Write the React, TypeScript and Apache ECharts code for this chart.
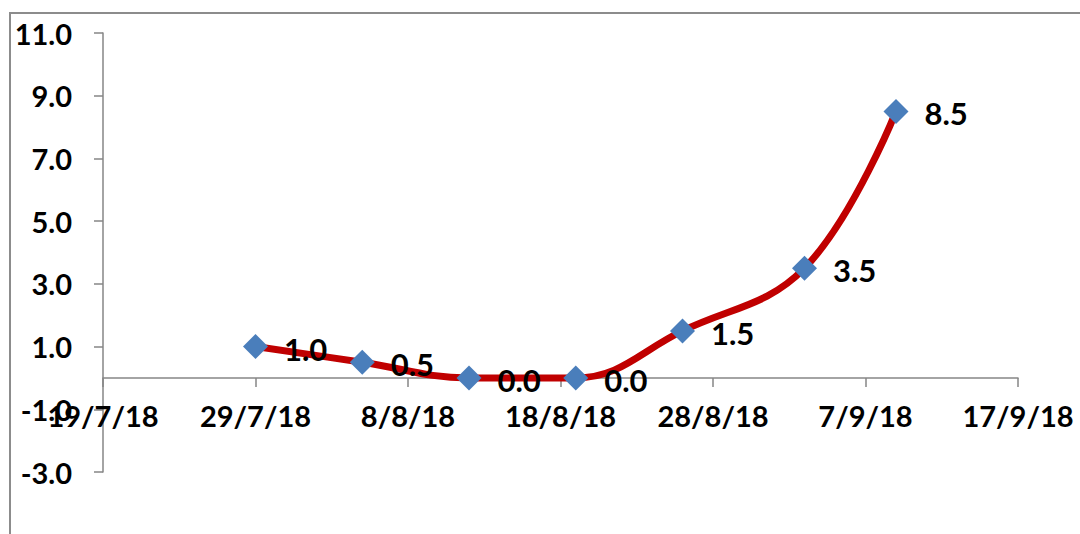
import React, { useEffect, useRef } from "react";
import * as echarts from "echarts";

const pointDates = ["2018-07-29", "2018-08-05", "2018-08-12", "2018-08-19", "2018-08-26", "2018-09-03", "2018-09-09"];
const pointValues = [1.0, 0.5, 0.0, 0.0, 1.5, 3.5, 8.5];
const xTickDates = ["2018-07-19", "2018-07-29", "2018-08-08", "2018-08-18", "2018-08-28", "2018-09-07", "2018-09-17"];
const yTickValues = [-3, -1, 1, 3, 5, 7, 9, 11];

const toTs = (s: string) => {
  const [y, m, d] = s.split("-").map(Number);
  return Date.UTC(y, m - 1, d);
};

const fmtDate = (v: number) => {
  const d = new Date(v);
  return `${d.getUTCDate()}/${d.getUTCMonth() + 1}/${String(d.getUTCFullYear()).slice(2)}`;
};

const FONT = "Lato";
const AXIS_COLOR = "#868686";
const GRID_TOP = 33;
const GRID_BOTTOM_PX = 472;

export default function App() {
  const ref = useRef<HTMLDivElement>(null);
  useEffect(() => {
    if (!ref.current) return;
    const chart = echarts.init(ref.current, null, { renderer: "svg" });
    const xTicks = xTickDates.map(toTs);
    const data = pointDates.map((d, i) => [toTs(d), pointValues[i]]);
    const yMin = yTickValues[0];
    const yMax = yTickValues[yTickValues.length - 1];
    // move the x axis up so that it crosses the y axis at zero (labels follow)
    const zeroOffset = -((0 - yMin) / (yMax - yMin)) * (GRID_BOTTOM_PX - GRID_TOP);
    chart.setOption({
      animation: false,
      backgroundColor: "#ffffff",
      graphic: [
        {
          type: "rect",
          shape: { x: 10, y: 13, width: 1200, height: 700 },
          style: { fill: "none", stroke: "#8c8c8c", lineWidth: 2 },
          silent: true,
        },
      ],
      grid: { left: 103, right: 62, top: GRID_TOP, bottom: 534 - GRID_BOTTOM_PX, containLabel: false },
      xAxis: {
        type: "value",
        min: xTicks[0],
        max: xTicks[xTicks.length - 1],
        offset: zeroOffset,
        axisLine: { onZero: false, lineStyle: { color: AXIS_COLOR, width: 1.5 } },
        axisTick: { show: true, length: 9, inside: false, customValues: xTicks, lineStyle: { color: AXIS_COLOR, width: 1.5 } },
        axisLabel: {
          customValues: xTicks,
          formatter: (v: number) => fmtDate(v),
          fontFamily: FONT,
          fontWeight: "bold",
          fontSize: 29,
          color: "#000",
          margin: 23,
          hideOverlap: false,
        },
        splitLine: { show: false },
      },
      yAxis: {
        type: "value",
        min: yMin,
        max: yMax,
        axisLine: { show: true, lineStyle: { color: AXIS_COLOR, width: 1.5 } },
        axisTick: { show: true, length: 9, inside: false, customValues: yTickValues, lineStyle: { color: AXIS_COLOR, width: 1.5 } },
        axisLabel: {
          customValues: yTickValues,
          formatter: (v: number) => v.toFixed(1),
          fontFamily: FONT,
          fontWeight: "bold",
          fontSize: 29,
          color: "#000",
          margin: 31,
        },
        splitLine: { show: false },
      },
      series: [
        {
          type: "line",
          data,
          smooth: 0.4,
          symbol: "diamond",
          symbolSize: 25,
          lineStyle: { color: "#C00000", width: 7 },
          itemStyle: { color: "#4A7EBB" },
          label: {
            show: true,
            position: "right",
            distance: 16,
            offset: [0, 2],
            formatter: (p: any) => Number(p.value[1]).toFixed(1),
            fontFamily: FONT,
            fontWeight: "bold",
            fontSize: 31,
            color: "#000",
          },
          z: 3,
        },
      ],
    });
    return () => chart.dispose();
  }, []);
  return (
    <div
      ref={ref}
      style={{ position: "fixed", left: 0, top: 0, width: 1080, height: 534, background: "#fff" }}
    />
  );
}
